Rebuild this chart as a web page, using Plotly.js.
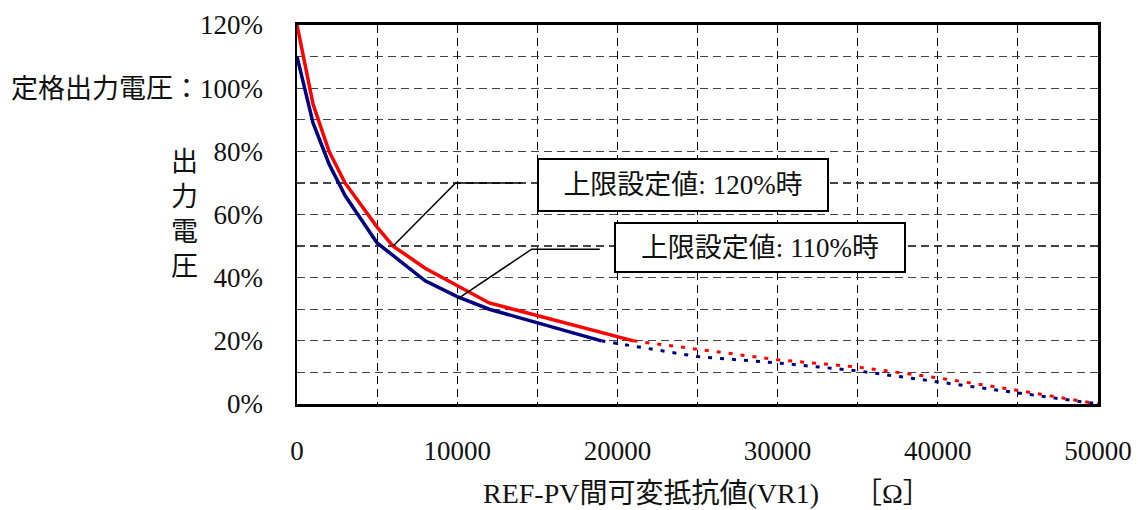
<!DOCTYPE html>
<html>
<head>
<meta charset="utf-8">
<script src="https://cdn.plot.ly/plotly-3.0.1.min.js"></script>
<style>html,body{margin:0;padding:0;background:#fff;}#chart{width:1138px;height:510px;}</style>
</head>
<body>
<div id="chart"></div>
<script>
// Data
const redX = [0, 1000, 2000, 3000, 4000, 5000, 6000, 8000, 12000, 21000];
const redY = [120, 95, 80, 70, 63, 56, 50, 43, 32, 20];
const blueX = [0, 500, 1000, 2000, 3000, 5000, 8000, 10000, 12000, 19000];
const blueY = [110, 99, 89, 76, 66, 51, 39, 34, 30, 20];
const redDotX = [21000, 25000, 30000, 35000, 40000, 45000, 50000];
const redDotY = [20, 17.4, 14, 11.7, 8.3, 4.3, 0];
const blueDotX = [19000, 25000, 30000, 35000, 40000, 45000, 50000];
const blueDotY = [20, 15, 13, 10.5, 7, 3.5, 0];
const yTickVals = [0, 20, 40, 60, 80, 100, 120];
const yTickText = ["0%", "20%", "40%", "60%", "80%", "定格出力電圧：100%", "120%"];
const xTickVals = [0, 10000, 20000, 30000, 40000, 50000];
const xTickText = ["0", "10000", "20000", "30000", "40000", "50000"];
const label120 = "上限設定値: 120%時";
const label110 = "上限設定値: 110%時";
const yTitle = "出<br>力<br>電<br>圧";
const xTitle = "REF-PV間可変抵抗値(VR1)　 ［Ω］";
// leader lines (data coords): [x0,y0, xElbow,yElbow, xEnd,yEnd]
const leader120 = [6000, 50, 9900, 70, 14000, 70];
const leader110 = [10050, 33.4, 14650, 49, 18900, 49];

const FONT = "Liberation Serif, 'Noto Sans CJK JP', serif";
const RED = "#ff0000", BLUE = "#000080";

const traces = [
  {x: blueDotX, y: blueDotY, mode: "lines", line: {color: BLUE, width: 3, dash: "4px,8px"}, hoverinfo: "skip"},
  {x: redDotX, y: redDotY, mode: "lines", line: {color: RED, width: 3, dash: "4px,8px"}, hoverinfo: "skip"},
  {x: blueX, y: blueY, mode: "lines", line: {color: BLUE, width: 3.5}},
  {x: redX, y: redY, mode: "lines", line: {color: RED, width: 3.5}}
];

function pathOf(p) {
  return `M ${p[0]} ${p[1]} L ${p[2]} ${p[3]} L ${p[4]} ${p[5]}`;
}

const layout = {
  width: 1138, height: 510,
  margin: {l: 297, r: 40, t: 25, b: 106},
  paper_bgcolor: "#fff", plot_bgcolor: "#fff",
  showlegend: false,
  font: {family: FONT, size: 27, color: "#111"},
  xaxis: {
    range: [0, 50000], tickvals: xTickVals, ticktext: xTickText,
    showline: true, linecolor: "#000", linewidth: 3, mirror: true,
    showgrid: true, gridcolor: "#000", gridwidth: 1, griddash: "8px,5px",
    minor: {tickvals: [5000, 15000, 25000, 35000, 45000], showgrid: true, gridcolor: "#000", gridwidth: 1, griddash: "8px,5px"},
    ticks: "", ticklabelstandoff: 21, zeroline: false,
    tickfont: {family: FONT, size: 27, color: "#111"}
  },
  yaxis: {
    range: [0, 120], tickvals: yTickVals, ticktext: yTickText,
    showline: true, linecolor: "#000", linewidth: 2.5, mirror: true,
    showgrid: true, gridcolor: "#444", gridwidth: 1.3, griddash: "8px,5px",
    minor: {tickvals: [10, 30, 50, 70, 90, 110], showgrid: true, gridcolor: "#444", gridwidth: 1.3, griddash: "8px,5px"},
    ticks: "", ticklabelstandoff: 26, zeroline: false,
    tickfont: {family: FONT, size: 27, color: "#111"}
  },
  shapes: [
    {type: "path", xref: "x", yref: "y", path: pathOf(leader120), line: {color: "#000", width: 1.5}},
    {type: "path", xref: "x", yref: "y", path: pathOf(leader110), line: {color: "#000", width: 1.5}}
  ],
  annotations: [
    {xref: "x", yref: "y", x: 24100, y: 69.5, text: label120, showarrow: false,
     width: 286, height: 48, bordercolor: "#000", borderwidth: 2, bgcolor: "#fff",
     font: {family: FONT, size: 27, color: "#111"}},
    {xref: "x", yref: "y", x: 28900, y: 49.6, text: label110, showarrow: false,
     width: 286, height: 45, bordercolor: "#000", borderwidth: 2, bgcolor: "#fff",
     font: {family: FONT, size: 27, color: "#111"}},
    {xref: "paper", yref: "paper", x: -0.14, y: 0.5, xanchor: "center", yanchor: "middle",
     text: yTitle, showarrow: false, font: {family: FONT, size: 27, color: "#111"}},
    {xref: "paper", yref: "paper", x: 0.512, y: -0.237, xanchor: "center", yanchor: "middle",
     text: xTitle, showarrow: false, font: {family: FONT, size: 28, color: "#111"}}
  ]
};

Plotly.newPlot("chart", traces, layout, {displayModeBar: false, staticPlot: true});
</script>
</body>
</html>
